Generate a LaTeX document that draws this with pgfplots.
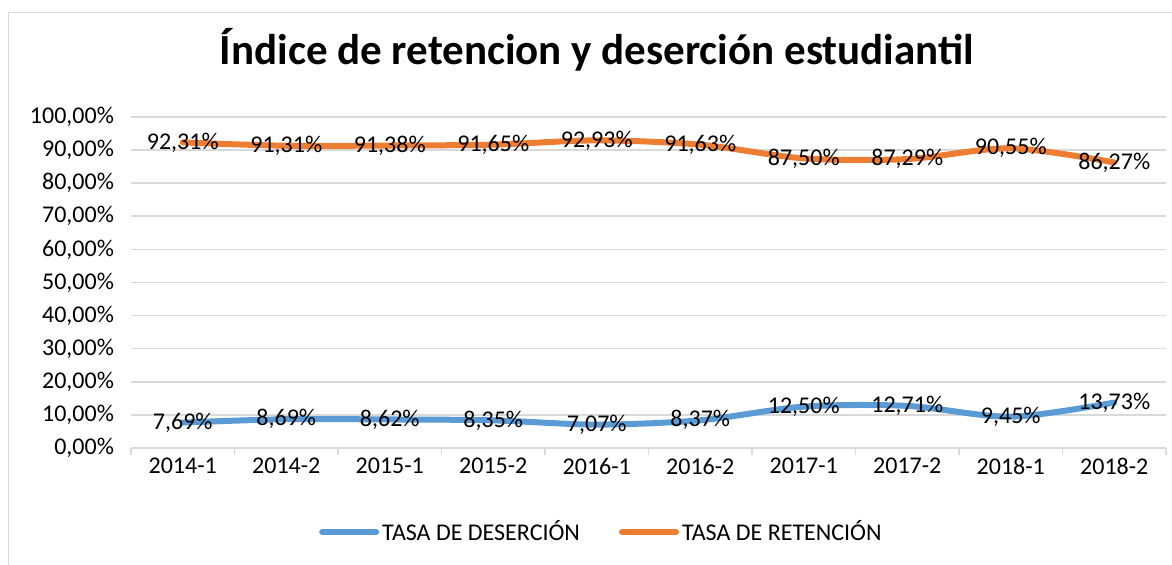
\documentclass[border=0pt]{standalone}
\usepackage{fontspec}
\setmainfont{Carlito}
\usepackage{pgfplots}
\pgfplotsset{compat=1.18}
\definecolor{desercion}{RGB}{91,155,213}
\definecolor{retencion}{RGB}{237,125,49}
\definecolor{gridgray}{RGB}{217,217,217}

\begin{document}
\begin{tikzpicture}
  \useasboundingbox (-65.5pt,-58.5pt) rectangle (520.5pt,224pt);
  \draw[gridgray] (-61.5pt,-70pt) rectangle (530pt,218pt);
  \node[font=\bfseries\fontsize{21.5}{25}\selectfont] at (233pt,199pt)
    {Índice de retencion y deserción estudiantil};
  \begin{axis}[
    scale only axis,
    width=517.5pt, height=165.5pt,
    xmin=-0.5, xmax=9.5,
    ymin=0, ymax=100,
    xtick={0,...,9},
    xticklabels={2014-1,2014-2,2015-1,2015-2,2016-1,2016-2,2017-1,2017-2,2018-1,2018-2},
    minor xtick={-0.5,0.5,...,9.5},
    ytick={0,10,...,100},
    yticklabel={\pgfmathprintnumber[fixed,fixed zerofill,precision=2,use comma,assume math mode=true]{\tick}\%},
    yticklabel style={xshift=-5pt},
    xticklabel style={yshift=-1.5pt},
    axis line style={draw=none},
    ymajorgrids,
    grid style={gridgray, line width=0.8pt},
    major tick length=0pt,
    minor tick length=3.5pt,
    tick align=outside,
    xtick pos=bottom,
    minor tick style={gridgray, line width=0.8pt},
    tick label style={font=\fontsize{12}{14}\selectfont, text=black},
    nodes near coords={\pgfmathprintnumber[fixed,fixed zerofill,precision=2,use comma,assume math mode=true]{\pgfplotspointmeta}\%},
    every node near coord/.append style={anchor=center, text=black, font=\fontsize{12}{14}\selectfont},
    legend columns=2,
    legend style={at={(0.455,-0.254)}, anchor=center, draw=none, fill=none,
      font=\fontsize{12}{14}\selectfont,
      nodes={inner sep=1.5pt},
      /tikz/every odd column/.append style={column sep=0pt},
      /tikz/every even column/.append style={column sep=18pt}},
    legend image code/.code={\draw[#1, line cap=round] (0pt,0pt) -- (27pt,0pt);},
  ]
    \addplot[desercion, line width=3pt, line cap=round, smooth, mark=none] coordinates {
      (0,7.69) (1,8.69) (2,8.62) (3,8.35) (4,7.07)
      (5,8.37) (6,12.50) (7,12.71) (8,9.45) (9,13.73)
    };
    \addlegendentry{TASA DE DESERCIÓN}
    \addplot[retencion, line width=3pt, line cap=round, smooth, mark=none] coordinates {
      (0,92.31) (1,91.31) (2,91.38) (3,91.65) (4,92.93)
      (5,91.63) (6,87.50) (7,87.29) (8,90.55) (9,86.27)
    };
    \addlegendentry{TASA DE RETENCIÓN}
  \end{axis}
\end{tikzpicture}
\end{document}
